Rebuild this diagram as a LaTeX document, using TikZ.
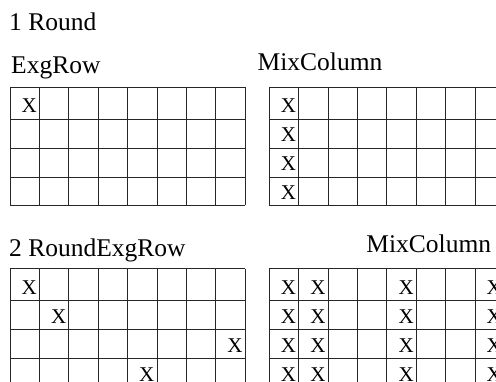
\documentclass[tikz,border=0pt]{standalone}
\usepackage{fontspec}
\setmainfont{Liberation Serif}
\usetikzlibrary{positioning}

\begin{document}
\begin{tikzpicture}[x=1pt,y=-1pt,
  heading/.style={anchor=base west,inner sep=0pt,font=\fontsize{25.5}{30}\selectfont},
  cellx/.style={anchor=base east,inner sep=0pt,font=\fontsize{21}{25}\selectfont},
  gridline/.style={line width=1pt,black!85}
]
  \useasboundingbox (0,0) rectangle (496,382);
  \clip (0,0) rectangle (496,382);
  % headings
  \node[heading] (round1) at (9,30.7) {1 Round};
  \node[heading] (exgrow1) at (11,73.3) {ExgRow};
  \node[heading] (mixcol1) at (257.5,70.7) {MixColumn};
  \node[heading] (round2) at (9,256.5) {2 RoundExgRow};
  \node[heading,anchor=base east] (mixcol2) at (491.3,252.5) {MixColumn};
  % the four 8x4 state grids
  \foreach \gx/\gy in {10/87.3, 269.3/87.3, 10/268.7, 269.3/268.7} {
    \foreach \c in {0,...,8}
      \draw[gridline] ({\gx+\c*29.4},\gy) -- ({\gx+\c*29.4},{\gy+118});
    \foreach \r in {0,32,61,90,118}
      \draw[gridline] (\gx,{\gy+\r}) -- ({\gx+235.2},{\gy+\r});
  }
  % round 1, ExgRow
  \node[cellx] (exg11) at ({10+29.4-2.4},{87.3+29-3.6}) {X};
  % round 1, MixColumn
  \foreach \r in {1,...,4}
    \node[cellx] (mix1\r) at ({269.3+29.4-2.4},{87.3+\r*29-3.6}) {X};
  % round 2, ExgRow
  \foreach \c/\r in {1/1,2/2,8/3,5/4}
    \node[cellx] (exg2\r) at ({10+\c*29.4-2.4},{268.7+\r*29-3.6}) {X};
  % round 2, MixColumn
  \foreach \c in {1,2,5,8}
    \foreach \r in {1,...,4}
      \node[cellx] (mix2\c\r) at ({269.3+\c*29.4-2.4},{268.7+\r*29-3.6}) {X};
\end{tikzpicture}
\end{document}
